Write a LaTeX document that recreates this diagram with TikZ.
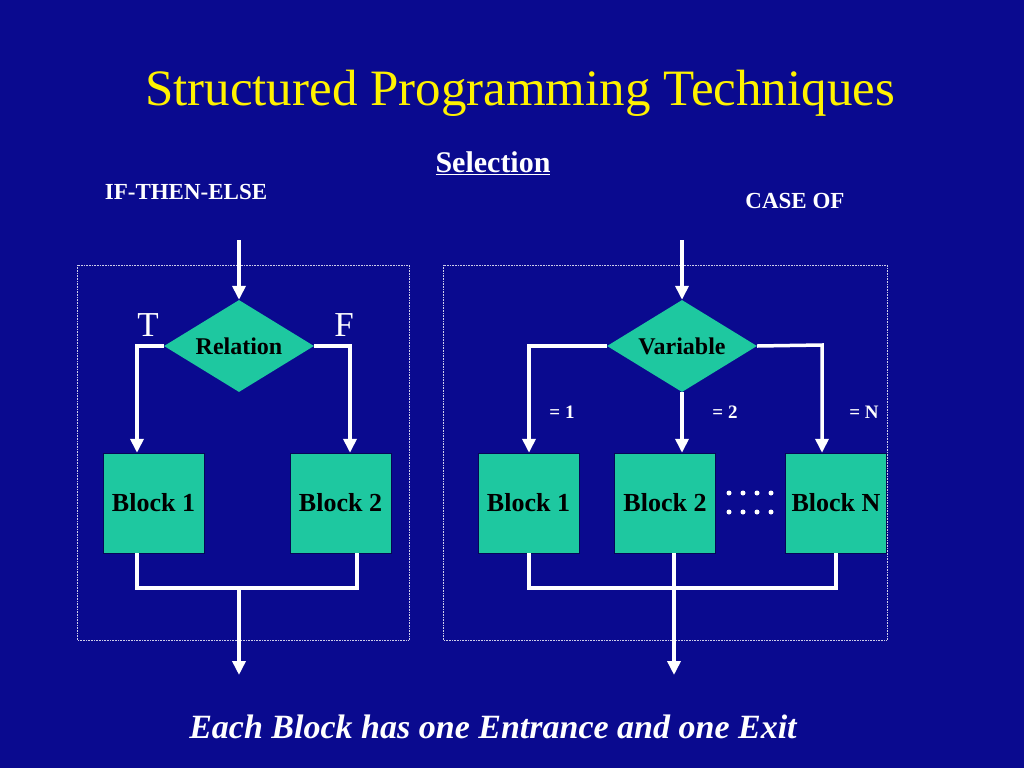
\documentclass[tikz,border=0pt]{standalone}
\usepackage{fontspec}
\setmainfont{Liberation Serif}
\usetikzlibrary{shapes.geometric,arrows.meta}
\definecolor{bg}{RGB}{10,10,143}
\definecolor{teal}{RGB}{30,200,160}
\begin{document}
\begin{tikzpicture}[x=1pt,y=-1pt,
  blk/.style={draw=bg!60!black,fill=teal,minimum width=101pt,minimum height=100pt,inner sep=0pt,font=\bfseries\fontsize{26}{28}\selectfont,text=black},
  dia/.style={diamond,fill=teal,minimum width=150pt,minimum height=92pt,aspect=1.63,inner sep=0pt,font=\bfseries\fontsize{24}{26}\selectfont,text=black},
  wl/.style={draw=white,line width=3.5pt},
  wa/.style={wl,-{Triangle[length=14pt,width=13pt]}},
  frm/.style={draw=white!80!bg,densely dotted,line width=0.6pt},
  lbl/.style={text=white,font=\bfseries\fontsize{19}{21}\selectfont}]
\fill[bg] (0,0) rectangle (1024,768);
\useasboundingbox (0,0) rectangle (1024,768);
\node[text=yellow,font=\fontsize{51}{54}\selectfont] (title) at (520,93) {Structured Programming Techniques};
\node[text=white,font=\bfseries\fontsize{30}{32}\selectfont] (sel) at (493,163) {\underline{Selection}};
\node[text=white,font=\bfseries\fontsize{23}{25}\selectfont] (ite) at (186,192) {IF-THEN-ELSE};
\node[text=white,font=\bfseries\fontsize{23}{25}\selectfont] (cas) at (795,201) {CASE OF};
\node[text=white,font=\bfseries\itshape\fontsize{34}{36}\selectfont] (foot) at (493,727) {Each Block has one Entrance and one Exit};
\draw[frm] (77,265) rectangle (409,640);
\draw[frm] (443,265) rectangle (887,640);
% left
\node[dia] (r) at (239,346) {Relation};
\node[blk] (b1) at (153.5,503) {Block 1};
\node[blk] (b2) at (340.5,503) {Block 2};
\node[text=white,font=\fontsize{35}{37}\selectfont] (t) at (148,325) {T};
\node[text=white,font=\fontsize{35}{37}\selectfont] (f) at (344,325) {F};
\coordinate (lin) at (239,240);
\coordinate (lout) at (239,675);
\draw[wa] (lin) -- (r.north);
\draw[wa] (r.west) -- (137,346) -- (137,0 |- b1.north);
\draw[wa] (r.east) -- (350,346) -- (350,0 |- b2.north);
\draw[wl] (137,0 |- b1.south) -- (137,588) -- (357,588) -- (357,0 |- b2.south);
\draw[wa] (239,588) -- (lout);
% right
\node[dia] (v) at (682,346) {Variable};
\node[blk] (c1) at (528.5,503) {Block 1};
\node[blk] (c2) at (665,503) {Block 2};
\node[blk] (cn) at (836,503) {Block N};
\node[lbl] (l1) at (562,412) {= 1};
\node[lbl] (l2) at (725,412) {= 2};
\node[lbl] (ln) at (864,412) {= N};
\coordinate (rin) at (682,240);
\coordinate (rout) at (674,675);
\draw[wa] (rin) -- (v.north);
\draw[wa] (v.west) -- (529,346) -- (529,0 |- c1.north);
\draw[wa] (v.south) -- (682,0 |- c2.north);
\draw[wa] (v.east) -- (822,345) -- (822,0 |- cn.north);
\draw[wl] (529,0 |- c1.south) -- (529,588) -- (836,588) -- (836,0 |- cn.south);
\draw[wa] (674,0 |- c2.south) -- (rout);
\foreach \xx in {729,743,757,771}{\fill[white] (\xx,493) circle (2.5pt); \fill[white] (\xx,512) circle (2.5pt);}
\end{tikzpicture}
\end{document}
